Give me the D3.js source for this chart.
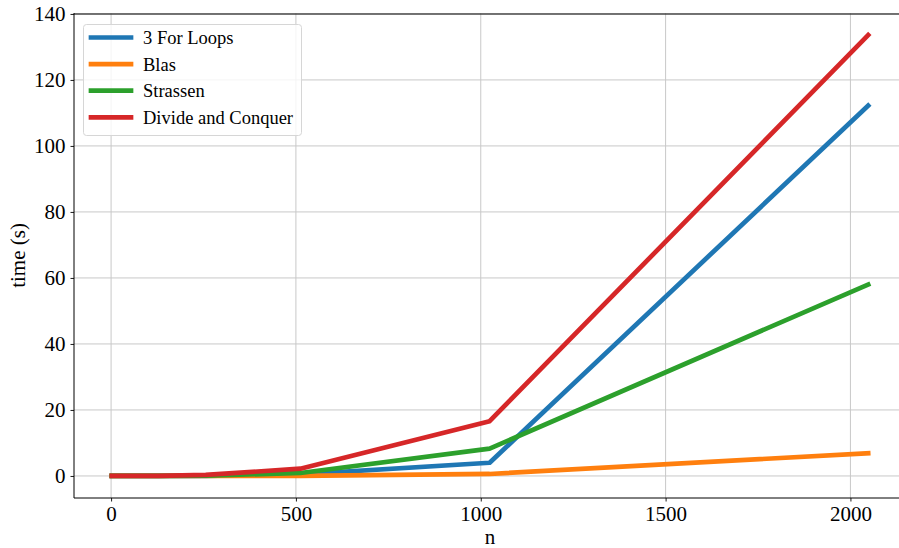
<!DOCTYPE html>
<html>
<head>
<meta charset="utf-8">
<script src="https://cdn.jsdelivr.net/npm/d3@7"></script>
<style>
  html, body { margin: 0; padding: 0; background: #fff; }
  svg { display: block; }
</style>
</head>
<body>
<svg id="chart" width="899" height="548"></svg>
<script>
// Matrix sizes (n) and run times in seconds for each multiplication method
const sizes = [2, 4, 8, 16, 32, 64, 128, 256, 512, 1024, 2048];
const forLoops = [0, 0, 0, 0, 0, 0, 0.01, 0.05, 0.5, 4.0, 112.2];
const blas = [0, 0, 0, 0, 0, 0, 0, 0.01, 0.05, 0.6, 6.9];
const strassen = [0, 0, 0, 0, 0, 0, 0.02, 0.1, 0.9, 8.3, 58.0];
const divideConquer = [0, 0, 0, 0, 0, 0, 0.04, 0.3, 2.2, 16.6, 133.6];

const seriesNames = ["3 For Loops", "Blas", "Strassen", "Divide and Conquer"];
const seriesValues = [forLoops, blas, strassen, divideConquer];
const colors = ["#1f77b4", "#ff7f0e", "#2ca02c", "#d62728"];

const xTicks = [0, 500, 1000, 1500, 2000];
const yTicks = [0, 20, 40, 60, 80, 100, 120, 140];

const FONT = "'Liberation Serif', 'Times New Roman', serif";
const svg = d3.select("#chart");

// axes area; right edge runs slightly past the canvas
const plotL = 74, plotR = 906, plotT = 13, plotB = 498;

// 5% padding around the data, as in the usual auto-limits
const xMin = d3.min(sizes), xMax = d3.max(sizes);
const xPad = (xMax - xMin) * 0.05;
const allY = seriesValues.flat();
const yMin = d3.min(allY), yMax = d3.max(allY);
const yPad = (yMax - yMin) * 0.05;

const x = d3.scaleLinear().domain([xMin - xPad, xMax + xPad]).range([plotL, plotR]);
const y = d3.scaleLinear().domain([yMin - yPad, yMax + yPad]).range([plotB, plotT]);

// grid
const grid = svg.append("g");
grid.selectAll("line.vx").data(xTicks).join("line")
  .attr("x1", d => x(d)).attr("x2", d => x(d))
  .attr("y1", plotT).attr("y2", plotB)
  .attr("stroke", "#c8c8c8").attr("stroke-width", 1);
grid.selectAll("line.hy").data(yTicks).join("line")
  .attr("x1", plotL).attr("x2", plotR)
  .attr("y1", d => y(d)).attr("y2", d => y(d))
  .attr("stroke", "#c8c8c8").attr("stroke-width", 1);

// series lines
const line = d3.line().x((d, i) => x(sizes[i])).y(d => y(d));
svg.append("clipPath").attr("id", "plotclip")
  .append("rect").attr("x", plotL).attr("y", plotT)
  .attr("width", plotR - plotL).attr("height", plotB - plotT);

svg.append("g").attr("clip-path", "url(#plotclip)")
  .selectAll("path").data(seriesValues).join("path")
  .attr("d", d => line(d))
  .attr("fill", "none")
  .attr("stroke", (d, i) => colors[i])
  .attr("stroke-width", 4.7)
  .attr("stroke-linejoin", "round")
  .attr("stroke-linecap", "square");

// axes
const xAxis = d3.axisBottom(x).tickValues(xTicks).tickSize(3.5).tickPadding(5).tickFormat(d3.format("d"));
const yAxis = d3.axisLeft(y).tickValues(yTicks).tickSize(3.5).tickPadding(5).tickFormat(d3.format("d"));

const gx = svg.append("g").attr("transform", `translate(0,${plotB})`).call(xAxis);
const gy = svg.append("g").attr("transform", `translate(${plotL},0)`).call(yAxis);

[gx, gy].forEach(g => {
  g.attr("font-family", null).attr("font-size", null);
  g.select(".domain").remove();
  g.selectAll(".tick line").attr("stroke", "#000").attr("stroke-width", 0.9);
  g.selectAll(".tick text")
    .style("font-family", FONT)
    .style("font-size", "21px").attr("fill", "#000");
});
gx.selectAll(".tick text").attr("dy", "0.71em");

// frame: left, bottom, top spines
svg.append("line").attr("x1", plotL).attr("x2", plotL).attr("y1", plotT).attr("y2", plotB)
  .attr("stroke", "#000").attr("stroke-width", 1);
svg.append("line").attr("x1", plotL).attr("x2", plotR).attr("y1", plotB).attr("y2", plotB)
  .attr("stroke", "#000").attr("stroke-width", 1);
svg.append("line").attr("x1", plotL).attr("x2", plotR).attr("y1", plotT + 1).attr("y2", plotT + 1)
  .attr("stroke", "#000").attr("stroke-width", 1);

// axis titles
svg.append("text").attr("x", (plotL + plotR) / 2).attr("y", 544)
  .attr("text-anchor", "middle")
  .style("font-family", FONT).style("font-size", "21px").text("n");
svg.append("text")
  .attr("transform", `translate(25,${(plotT + plotB) / 2}) rotate(-90)`)
  .attr("text-anchor", "middle")
  .style("font-family", FONT).style("font-size", "21px").text("time (s)");

// legend
const lg = svg.append("g").attr("transform", "translate(83,24)");
lg.append("rect").attr("x", 0.5).attr("y", 0.5).attr("width", 218).attr("height", 111)
  .attr("rx", 3).attr("fill", "#fff").attr("fill-opacity", 0.8)
  .attr("stroke", "#d6d6d6").attr("stroke-width", 1);
const items = lg.selectAll("g.item").data(seriesNames).join("g")
  .attr("transform", (d, i) => `translate(0,${13.5 + i * 26.6})`);
items.append("line").attr("x1", 8).attr("x2", 48).attr("y1", 0).attr("y2", 0)
  .attr("stroke", (d, i) => colors[i]).attr("stroke-width", 4.7)
  .attr("stroke-linecap", "square");
items.append("text").attr("x", 60).attr("y", 6.5)
  .style("font-family", FONT).style("font-size", "18.5px").text(d => d);
</script>
</body>
</html>
